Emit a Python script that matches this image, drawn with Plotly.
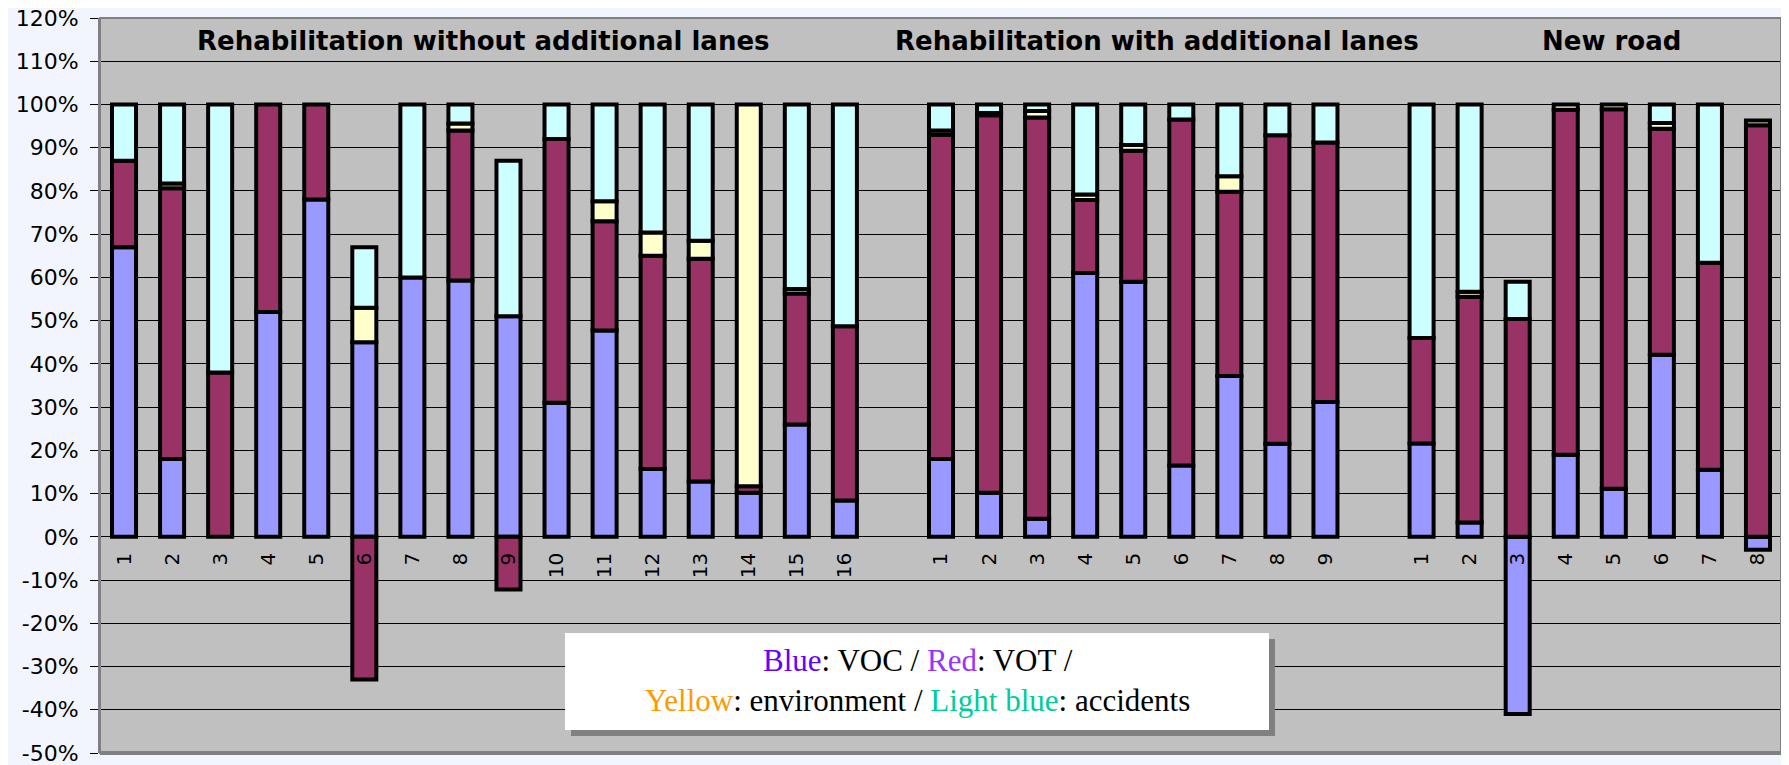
import plotly.graph_objects as go

# ---------------- data (percent shares of benefits) ----------------
group_titles = ["Rehabilitation without additional lanes",
                "Rehabilitation with additional lanes",
                "New road"]

labels_g1 = ["1", "2", "3", "4", "5", "6", "7", "8", "9", "10", "11", "12", "13", "14", "15", "16"]
voc_g1 = [67, 18, 0, 52, 78, 45, 60, 59.3, 51, 31, 47.7, 15.7, 12.8, 10.2, 26, 8.4]
vot_g1 = [20, 62.6, 38, 48, 22, -33, 0, 34.7, -12.2, 61, 25.3, 49.3, 51.5, 1.5, 30.3, 40.3]
env_g1 = [0, 1.1, 0, 0, 0, 8, 0, 1.6, 0, 0, 4.6, 5.4, 4.2, 88.3, 1, 0]
acc_g1 = [13, 18.3, 62, 0, 0, 14, 40, 4.4, 36, 8, 22.4, 29.6, 31.5, 0, 42.7, 51.3]

labels_g2 = ["1", "2", "3", "4", "5", "6", "7", "8", "9"]
voc_g2 = [18, 10.2, 4.2, 61, 59, 16.5, 37.2, 21.5, 31.2]
vot_g2 = [75, 87.3, 92.8, 16.9, 30.3, 80, 42.6, 71.4, 60]
env_g2 = [1, 0.5, 1.5, 1.3, 1.3, 0, 3.6, 0, 0]
acc_g2 = [6, 2, 1.5, 20.8, 9.4, 3.5, 16.6, 7.1, 8.8]

labels_g3 = ["1", "2", "3", "4", "5", "6", "7", "8"]
voc_g3 = [21.6, 3.3, -41, 19, 11.1, 42.1, 15.5, -3]
vot_g3 = [24.4, 52.2, 50.4, 79.8, 87.8, 52.3, 47.9, 95.2]
env_g3 = [0, 1.2, 0, 1.2, 1.1, 1.3, 0, 1.1]
acc_g3 = [54, 43.3, 8.6, 0, 0, 4.3, 36.6, 0]

y_ticks = list(range(-50, 121, 10))

# ---------------- build category positions (one empty slot between groups) ----
def join(a, b, c):
    return list(a) + [None] + list(b) + [None] + list(c)

tick_text = join(labels_g1, labels_g2, labels_g3)
tick_text = ["" if t is None else t for t in tick_text]
positions = list(range(len(tick_text)))

def clean(vals):
    return [None if (v is None or v == 0) else v for v in vals]

series = [
    ("VOC", join(voc_g1, voc_g2, voc_g3), "#9999FF"),
    ("VOT", join(vot_g1, vot_g2, vot_g3), "#993366"),
    ("environment", join(env_g1, env_g2, env_g3), "#FFFFCC"),
    ("accidents", join(acc_g1, acc_g2, acc_g3), "#CCFFFF"),
]

fig = go.Figure()
for name, vals, col in series:
    fig.add_trace(go.Bar(
        x=positions, y=clean(vals), name=name, width=0.5,
        marker=dict(color=col, line=dict(color="#000000", width=4)),
        showlegend=False,
    ))

n1, n2, n3 = len(labels_g1), len(labels_g2), len(labels_g3)
g_centers = [(n1 - 1) / 2, n1 + 1 + (n2 - 1) / 2, n1 + n2 + 2 + (n3 - 1) / 2]
g_shift = [-0.02, 0.5, 0.45]
for t, cx, sh in zip(group_titles, g_centers, g_shift):
    fig.add_annotation(x=cx + sh, y=114.6, xref="x", yref="y", text="<b>" + t + "</b>",
                       showarrow=False, font=dict(family="DejaVu Sans", size=26, color="#000000"))

# the page body keeps an 8 px margin, so the figure starts at (8, 8) in the window
OFF = 8
W, H = 1789 - OFF, 765 - OFF
ml, mr, mt, mb = 100 - OFF, 7, 18 - OFF, 12
pw, ph = W - ml - mr, H - mt - mb

def px_x(p):
    return (p - OFF - ml) / pw

def px_y(p):
    return (H - mb - (p - OFF)) / ph

# legend box with shadow
fig.add_shape(type="rect", xref="paper", yref="paper",
              x0=px_x(571), x1=px_x(1275), y0=px_y(736), y1=px_y(639),
              fillcolor="#808080", line=dict(width=0), layer="above")
fig.add_shape(type="rect", xref="paper", yref="paper",
              x0=px_x(565), x1=px_x(1269), y0=px_y(730), y1=px_y(633),
              fillcolor="#FFFFFF", line=dict(width=0), layer="above")
fig.add_annotation(
    xref="paper", yref="paper", x=px_x(917), y=px_y(680),
    xanchor="center", yanchor="middle",
    text=('<span style="color:#6600FF">Blue</span>: VOC / '
          '<span style="color:#9933FF">Red</span>: VOT /<br>'
          '<span style="color:#FF9900">Yellow</span>: environment / '
          '<span style="color:#00CC99">Light blue</span>: accidents'),
    showarrow=False, align="center",
    font=dict(family="Liberation Serif", size=31, color="#000000"))

# plot border (grey, thicker at right / bottom like Excel's 3D look)
fig.add_shape(type="rect", xref="paper", yref="paper", x0=0, x1=1, y0=0, y1=1,
              line=dict(color="#808080", width=2), layer="above")
fig.add_shape(type="line", xref="paper", yref="paper", x0=1, x1=1, y0=0, y1=1,
              line=dict(color="#808080", width=4), layer="above")
fig.add_shape(type="line", xref="paper", yref="paper", x0=0, x1=1, y0=0, y1=0,
              line=dict(color="#808080", width=4), layer="above")

fig.update_layout(
    width=W, height=H,
    margin=dict(l=ml, r=mr, t=mt, b=mb, pad=0, autoexpand=False),
    barmode="relative",
    paper_bgcolor="#F2F5FE",
    plot_bgcolor="#C0C0C0",
    font=dict(family="DejaVu Sans", color="#000000"),
    xaxis=dict(
        range=[-0.5, len(positions) - 0.5], tickmode="array",
        tickvals=positions, ticktext=tick_text, tickangle=-90,
        anchor="free", position=50 / 170, showgrid=False, zeroline=False,
        showline=False, ticks="", ticklabelstandoff=11, automargin=False,
        tickfont=dict(family="DejaVu Sans", size=20, color="#000000"),
        fixedrange=True,
    ),
    yaxis=dict(
        range=[-50, 120], tickmode="array", tickvals=y_ticks,
        ticktext=[f"{v}%" for v in y_ticks],
        showgrid=True, gridcolor="#000000", gridwidth=1,
        zeroline=True, zerolinecolor="#000000", zerolinewidth=1,
        showline=True, linecolor="#808080", linewidth=2,
        ticks="outside", ticklen=8, tickcolor="#000000",
        ticklabelstandoff=7, ticklabeloverflow="allow", automargin=False,
        tickfont=dict(family="DejaVu Sans", size=22, color="#000000"),
    ),
)

fig.write_html("out.html")
